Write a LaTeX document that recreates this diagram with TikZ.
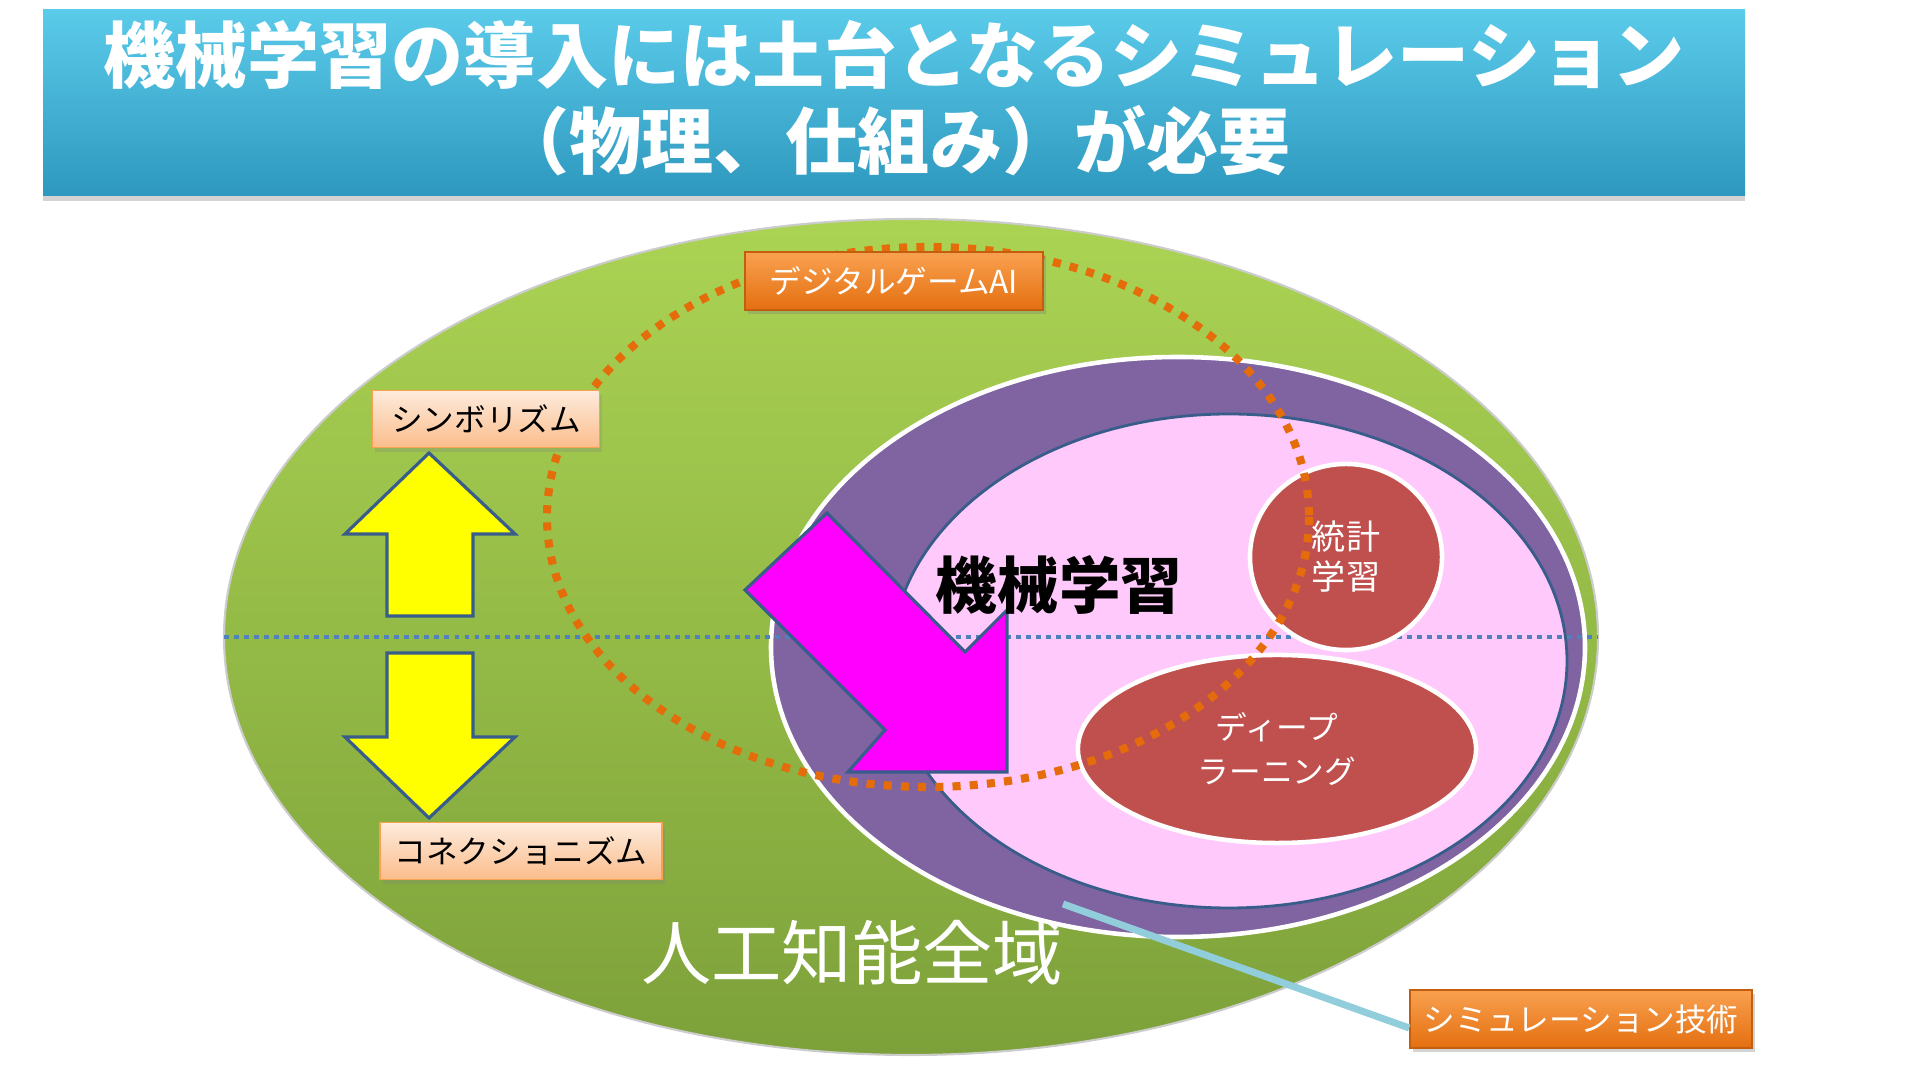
\documentclass[tikz,border=0pt]{standalone}
\usepackage{fontspec}
\setmainfont{Noto Sans CJK JP}
\usepackage{tikz}
\usetikzlibrary{shapes.geometric,shadows}

\definecolor{bannertop}{HTML}{5BCBEA}
\definecolor{bannerbot}{HTML}{2E98BE}
\definecolor{greentop}{HTML}{ABD353}
\definecolor{greenbot}{HTML}{7DA13A}
\definecolor{mlpurple}{HTML}{8064A2}
\definecolor{mlpink}{HTML}{FFC9FB}
\definecolor{edgeblue}{HTML}{385D8A}
\definecolor{brick}{HTML}{C0504D}
\definecolor{dotorange}{HTML}{E46C0A}
\definecolor{dotblue}{HTML}{4F81BD}
\definecolor{tagtop}{HTML}{F9A150}
\definecolor{tagbot}{HTML}{E46F10}
\definecolor{peachtop}{HTML}{FDEBDC}
\definecolor{peachbot}{HTML}{FBBD8C}
\definecolor{leadblue}{HTML}{92CDDC}
\definecolor{hotpink}{HTML}{FF00FF}
\definecolor{lemon}{HTML}{FFFF00}

\begin{document}
\begin{tikzpicture}[
        x=0.01cm, y=-0.01cm,
        tag/.style={rectangle, top color=tagtop, bottom color=tagbot, draw=tagbot!85!black, line width=0.4pt,
            text=white, font=\fontsize{9}{11}\selectfont, minimum height=0.58cm, inner sep=0pt,
            drop shadow={opacity=0.35, shadow xshift=0.8pt, shadow yshift=-1.2pt}},
        school/.style={rectangle, top color=peachtop, bottom color=peachbot, draw=tagtop, line width=0.4pt,
            text=black, font=\fontsize{9}{11}\selectfont, minimum height=0.57cm, inner sep=0pt,
            drop shadow={opacity=0.25, shadow xshift=0.8pt, shadow yshift=-1.2pt}},
        field/.style={ellipse, fill=brick, draw=white, line width=1.3pt, inner sep=0pt,
            text=white, align=center},
        fatarrow/.style={draw=edgeblue, line width=0.9pt, line join=miter}
    ]
        \useasboundingbox (0,0) rectangle (1920,1080);

        % Banner
        \shade[top color=bannertop, bottom color=bannerbot, drop shadow={opacity=0.35, shadow xshift=0pt, shadow yshift=-1.5pt}]
            (43,10) rectangle (1745,196);
        \node (title) at (894,98) [text=white, align=center, font=\bfseries\fontsize{20.5}{24.5}\selectfont]
            {機械学習の導入には土台となるシミュレーション\\（物理、仕組み）が必要};

        % Areas
        \shade[top color=greentop, bottom color=greenbot, draw=white!80!black, line width=0.6pt]
            (911,637) ellipse [x radius=687, y radius=418];
        \draw[fill=mlpurple, draw=white, line width=1.3pt] (1178,647) ellipse [x radius=407, y radius=290];
        \draw[fill=mlpink, draw=edgeblue, line width=0.8pt] (1229,661) ellipse [x radius=338, y radius=247];
        \draw[dotblue, line width=1.4pt, dash pattern=on 1.4pt off 1.45pt] (224,637) -- (1598,637);

        % Nodes
        \node (stats) at (1346,557) [field, minimum width=1.92cm, minimum height=1.86cm,
            font=\fontsize{9.7}{11.4}\selectfont] {統計\\学習};
        \node (deep) at (1277,749) [field, minimum width=3.98cm, minimum height=1.88cm,
            font=\fontsize{9}{12.6}\selectfont] {ディープ\\ラーニング};

        \draw[dotorange, line width=2.3pt, dash pattern=on 2.3pt off 2.6pt] (928,517) ellipse [x radius=381, y radius=270];

        % Arrows
        \draw[fatarrow, fill=hotpink] (827,513) -- (965,652) -- (1007,610) -- (1007,772)
            -- (848,772) -- (885,730) -- (745,590) -- cycle;
        \draw[fatarrow, fill=lemon] (429,453) -- (515,534) -- (473,534) -- (473,616)
            -- (387,616) -- (387,534) -- (345,534) -- cycle;
        \draw[fatarrow, fill=lemon] (387,653) -- (473,653) -- (473,737) -- (515,737)
            -- (429,818) -- (345,737) -- (387,737) -- cycle;

        % Labels
        \node (ml) at (1059,585) [font=\bfseries\fontsize{17.5}{20}\selectfont] {機械学習};
        \node (ai) at (852,953) [text=white, font=\fontsize{20}{24}\selectfont] {人工知能全域};
        \node (game) at (894,281) [tag, minimum width=2.98cm] {デジタルゲームAI};
        \node (symbol) at (486,419) [school, minimum width=2.27cm] {シンボリズム};
        \node (connect) at (521,851) [school, minimum width=2.82cm] {コネクショニズム};
        \node (simtag) at (1581,1019) [tag, minimum width=3.42cm] {シミュレーション技術};

        % Lead
        \coordinate (simlead) at (1063,904);
        \draw[leadblue, line width=2pt] (simlead) -- (simtag.183);
    \end{tikzpicture}
\end{document}
